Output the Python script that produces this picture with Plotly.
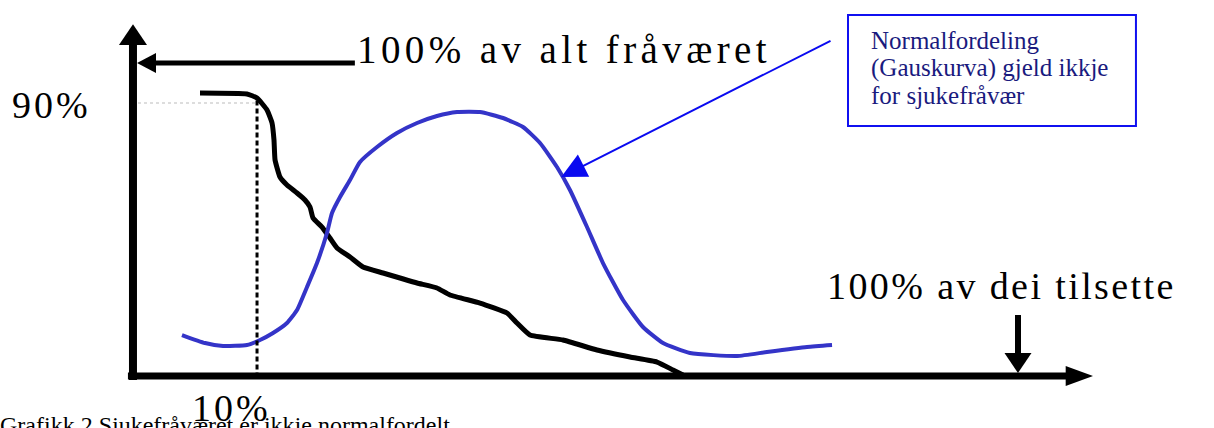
import plotly.graph_objects as go

# ---- data (x: % of employees, y: % of absence) ----
black_x = [7.36, 12.68, 13.82, 14.95, 15.52, 15.74, 15.86, 16.42, 17.21, 18.35, 19.25, 19.82,
           20.16, 21.18, 22.08, 22.88, 24.35, 25.82, 28.09, 30.01, 31.94, 34.20, 35.67, 39.07,
           42.13, 43.26, 44.73, 48.47, 52.32, 56.06, 59.12, 60.93, 62.06]
black_y = [90.10, 89.78, 88.50, 84.66, 80.51, 75.08, 68.69, 63.26, 60.70, 58.15, 55.91, 53.67,
           50.16, 47.28, 43.77, 40.58, 37.70, 34.50, 32.59, 30.99, 29.39, 27.80, 25.56, 23.00,
           19.81, 16.61, 12.78, 11.18, 7.99, 5.75, 4.15, 1.60, 0.0]

blue_x = [5.32, 7.93, 9.97, 12.68, 14.16, 15.63, 17.21, 18.35, 19.48, 20.61, 21.74, 22.31,
          23.22, 24.35, 25.48, 27.41, 29.67, 31.94, 34.20, 36.47, 39.07, 41.68, 43.94, 45.87,
          47.79, 49.26, 51.19, 53.00, 55.27, 57.53, 59.80, 62.85, 68.18, 71.57, 76.10, 78.94]
blue_y = [12.78, 10.22, 9.27, 9.58, 11.18, 13.42, 16.61, 20.77, 28.12, 35.78, 45.37, 51.76,
          56.87, 62.30, 68.05, 72.84, 77.32, 80.51, 82.75, 84.03, 84.03, 82.11, 79.23, 74.12,
          66.45, 59.11, 47.28, 35.78, 23.96, 15.34, 10.22, 7.03, 6.07, 7.35, 8.95, 9.58]

label_90 = "90%"
label_10 = "10%"
label_top = "100% av alt fråværet"
label_right = "100% av dei tilsette"
box_lines = ["Normalfordeling", "(Gauskurva) gjeld ikkje", "for sjukefråvær"]
caption = "Grafikk 2 Sjukefråværet er ikkje normalfordelt"

# marker positions for the 10% / 90% guides
mark_x10 = 13.82
mark_y90 = 86.9

# ---- figure ----
FONT = "Liberation Serif, Times New Roman, serif"
fig = go.Figure()

fig.add_trace(go.Scatter(x=black_x, y=black_y, mode="lines",
                         line=dict(color="black", width=5, shape="spline", smoothing=0.4),
                         hoverinfo="skip"))
fig.add_trace(go.Scatter(x=blue_x, y=blue_y, mode="lines",
                         line=dict(color="#3434c8", width=4, shape="spline", smoothing=0.5),
                         hoverinfo="skip"))

shapes = []
# guides
shapes.append(dict(type="line", xref="x", yref="y", x0=0.34, x1=mark_x10, y0=mark_y90, y1=mark_y90,
                   line=dict(color="#bbbbbb", width=1, dash="dot")))
shapes.append(dict(type="line", xref="x", yref="y", x0=mark_x10, x1=mark_x10, y0=mark_y90 + 0.8, y1=-0.3,
                   line=dict(color="black", width=3, dash="5px,3px")))
# y axis
shapes.append(dict(type="line", xref="x", yref="y", x0=-0.23, x1=-0.23, y0=-1.6, y1=106,
                   line=dict(color="black", width=8)))
shapes.append(dict(type="path", xref="x", yref="y",
                   path="M -1.82 105.4 L 1.36 105.4 L -0.23 112.1 Z",
                   fillcolor="black", line=dict(color="black", width=0)))
# x axis
shapes.append(dict(type="line", xref="x", yref="y", x0=-0.8, x1=105.8, y0=-0.32, y1=-0.32,
                   line=dict(color="black", width=7)))
shapes.append(dict(type="path", xref="x", yref="y",
                   path="M 105.4 2.87 L 105.4 -3.51 L 108.5 -0.32 Z",
                   fillcolor="black", line=dict(color="black", width=0)))
# arrow to y axis (100% of absence)
shapes.append(dict(type="line", xref="x", yref="y", x0=2.2, x1=24.9, y0=99.68, y1=99.68,
                   line=dict(color="black", width=5)))
shapes.append(dict(type="path", xref="x", yref="y",
                   path="M 2.38 102.87 L 2.38 96.49 L 0.23 99.68 Z",
                   fillcolor="black", line=dict(color="black", width=0)))
# arrow down to x axis (100% of employees)
shapes.append(dict(type="line", xref="x", yref="y", x0=100, x1=100, y0=19.17, y1=6.6,
                   line=dict(color="black", width=6)))
shapes.append(dict(type="path", xref="x", yref="y",
                   path="M 98.47 7.03 L 101.53 7.03 L 100 0.64 Z",
                   fillcolor="black", line=dict(color="black", width=0)))
# callout box
shapes.append(dict(type="rect", xref="x", yref="y", x0=80.75, x1=113.36, y0=79.55, y1=115.0,
                   line=dict(color="#1010f0", width=2), fillcolor="rgba(0,0,0,0)"))

annotations = []
# callout arrow
annotations.append(dict(x=48.27, y=63.26, ax=78.94, ay=107.0, xref="x", yref="y",
                        axref="x", ayref="y", text="", showarrow=True, arrowhead=2,
                        arrowsize=2.5, arrowwidth=2, arrowcolor="#0a0af0", standoff=0))
# box text
for i, (line_txt, yv) in enumerate(zip(box_lines, [107.0, 98.1, 89.2])):
    annotations.append(dict(x=83.1, y=yv, xref="x", yref="y", text=line_txt, showarrow=False,
                            xanchor="left", yanchor="middle",
                            font=dict(family=FONT, size=25, color="#1a1a7e")))
annotations.append(dict(x=24.9, y=104.0, xref="x", yref="y",
                        text='<span style="letter-spacing:4.4px">' + label_top + '</span>',
                        showarrow=False, xanchor="left", yanchor="middle",
                        font=dict(family=FONT, size=39, color="black")))
annotations.append(dict(x=78.1, y=28.3, xref="x", yref="y",
                        text='<span style="letter-spacing:2.4px">' + label_right + '</span>',
                        showarrow=False, xanchor="left", yanchor="middle",
                        font=dict(family=FONT, size=38, color="black")))
annotations.append(dict(x=-14.16, y=86.3, xref="x", yref="y",
                        text='<span style="letter-spacing:3px">' + label_90 + '</span>',
                        showarrow=False, xanchor="left", yanchor="middle",
                        font=dict(family=FONT, size=38, color="black")))
annotations.append(dict(x=0.0, y=0.0, xref="paper", yref="paper", text=caption,
                        showarrow=False, xanchor="left", yanchor="middle",
                        xshift=-2, yshift=3,
                        font=dict(family=FONT, size=24, color="black")))
annotations.append(dict(x=6.23, y=-10.5, xref="x", yref="y",
                        text='<span style="letter-spacing:3px">' + label_10 + '</span>',
                        showarrow=False, xanchor="left", yanchor="middle",
                        font=dict(family=FONT, size=38, color="black")))

fig.update_layout(
    width=1214, height=428,
    margin=dict(l=0, r=0, t=0, b=0),
    paper_bgcolor="white", plot_bgcolor="white",
    showlegend=False,
    xaxis=dict(range=[-15.29, 122.20], visible=False, fixedrange=True),
    yaxis=dict(range=[-16.93, 119.81], visible=False, fixedrange=True),
    shapes=shapes, annotations=annotations,
)

fig.write_html("out.html", config={"displayModeBar": False},
               post_script="document.body.style.margin='0px';document.body.style.overflow='hidden';")
